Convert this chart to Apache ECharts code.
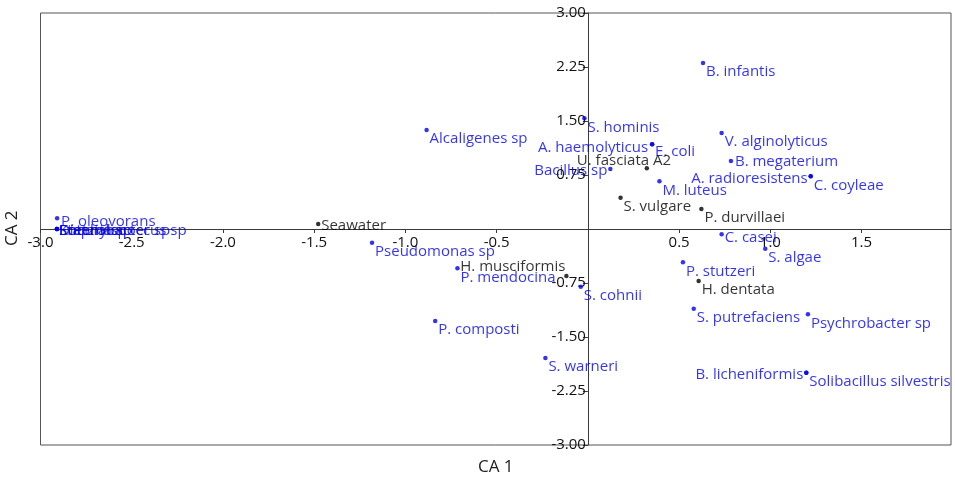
<!DOCTYPE html>
<html>
<head>
<meta charset="utf-8">
<title>CA biplot</title>
<script src="https://cdn.jsdelivr.net/npm/echarts@6/dist/echarts.min.js"></script>
<style>
  html, body { margin: 0; padding: 0; background: #fff; }
  #chart { width: 955px; height: 485px; }
</style>
</head>
<body>
<div id="chart"></div>
<script>
// Correspondence analysis scores: bacteria (blue) and algae / seawater (black)
const bacteriaNames = [
  'B. infantis', 'S. hominis', 'Alcaligenes sp', 'A. haemolyticus', 'E. coli',
  'Bacillus sp', 'M. luteus', 'V. alginolyticus', 'B. megaterium',
  'A. radioresistens', 'C. coyleae', 'Pseudomonas sp', 'P. mendocina',
  'S. cohnii', 'P. composti', 'S. warneri', 'C. casei', 'S. algae',
  'P. stutzeri', 'S. putrefaciens', 'Psychrobacter sp', 'B. licheniformis',
  'Solibacillus silvestris', 'P. oleovorans',
  'Staphylococcus sp', 'Enterobacter sp', 'Kocuria sp', 'Dietzia sp'
];
const bacteriaCA1 = [
  0.631, -0.019, -0.884, 0.352, 0.352,
  0.123, 0.392, 0.733, 0.784,
  1.221, 1.221, -1.183, -0.715,
  -0.039, -0.837, -0.233, 0.733, 0.972,
  0.521, 0.580, 1.206, 1.197,
  1.197, -2.909,
  -2.910, -2.910, -2.910, -2.910
];
const bacteriaCA2 = [
  2.306, 1.538, 1.375, 1.176, 1.176,
  0.833, 0.663, 1.333, 0.944,
  0.732, 0.732, -0.190, -0.546,
  -0.801, -1.278, -1.792, -0.074, -0.274,
  -0.463, -1.107, -1.185, -1.996,
  -1.996, 0.149,
  0.000, 0.000, 0.000, 0.000
];

const algaeNames = ['Seawater', 'U. fasciata A2', 'S. vulgare', 'P. durvillaei', 'H. musciformis', 'H. dentata'];
const algaeCA1 = [-1.478, 0.323, 0.179, 0.622, -0.118, 0.607];
const algaeCA2 = [0.069, 0.843, 0.435, 0.278, -0.653, -0.722];

const xTicks = { min: -3, max: 1.99, step: 0.5 };
const yTicks = { min: -3, max: 3, step: 0.75 };

// label placement relative to each point: [dx, dy, align]
const labelPlacement = {
  'A. haemolyticus': [-4, 3, 'right'],
  'Bacillus sp': [-3, 2, 'right'],
  'A. radioresistens': [-3, 2, 'right'],
  'B. licheniformis': [-3, 2, 'right'],
  'H. musciformis': [-1, -9, 'right'],
  'U. fasciata A2': [-70, -8, 'left'],
  'B. megaterium': [4, 1, 'left'],
  'C. casei': [3, 3, 'left'],
  'Seawater': [3, 2, 'left'],
  'P. oleovorans': [4, 3, 'left'],
  'E. coli': [3, 7, 'left'],
  'Staphylococcus sp': [2, 2, 'left'],
  'Enterobacter sp': [2, 2, 'left'],
  'Kocuria sp': [2, 2, 'left'],
  'Dietzia sp': [2, 2, 'left']
};

const BLUE = '#0000ee';
const BLACK = '#000000';
const FONT = '"Open Sans", "Noto Sans", sans-serif';

// plot frame in pixels
const GRID = { left: 40.5, right: 4, top: 13, bottom: 40 };
const W = 955, H = 485;
const plotW = W - GRID.left - GRID.right;
const plotH = H - GRID.top - GRID.bottom;
// shift the axes so they cross at the origin, labels included
const xAxisOffset = -plotH * (0 - yTicks.min) / (yTicks.max - yTicks.min);
const yAxisOffset = -plotW * (0 - xTicks.min) / (xTicks.max - xTicks.min);

function buildPoints(names, xs, ys, color) {
  return names.map(function (n, i) {
    const p = labelPlacement[n] || [3, 9, 'left'];
    return {
      name: n,
      value: [xs[i], ys[i]],
      label: {
        show: true,
        position: 'inside',
        align: p[2],
        verticalAlign: 'middle',
        offset: [p[0], p[1]],
        formatter: n,
        color: color,
        fontSize: 15,
        fontFamily: FONT
      }
    };
  });
}

function isStep(v, step) {
  const k = v / step;
  return Math.abs(k - Math.round(k)) < 1e-6;
}

const chart = echarts.init(document.getElementById('chart'), null, { renderer: 'canvas' });

chart.setOption({
  animation: false,
  backgroundColor: '#ffffff',
  grid: {
    left: GRID.left, right: GRID.right, top: GRID.top, bottom: GRID.bottom,
    show: true, borderColor: '#555555', borderWidth: 1, backgroundColor: 'transparent'
  },
  xAxis: {
    type: 'value', position: 'bottom', offset: xAxisOffset,
    min: xTicks.min, max: xTicks.max, interval: xTicks.step,
    axisLine: { onZero: false, lineStyle: { color: '#3a3a3a', width: 1 } },
    axisTick: { show: true, length: 4, lineStyle: { color: '#3a3a3a' } },
    splitLine: { show: false },
    axisLabel: {
      color: '#111', fontSize: 15, fontFamily: FONT, margin: 6,
      showMaxLabel: false,
      formatter: function (v) {
        if (Math.abs(v) < 1e-9 || !isStep(v, xTicks.step)) return '';
        return v.toFixed(1);
      }
    }
  },
  yAxis: {
    type: 'value', position: 'left', offset: yAxisOffset,
    min: yTicks.min, max: yTicks.max, interval: yTicks.step,
    axisLine: { onZero: false, lineStyle: { color: '#3a3a3a', width: 1 } },
    axisTick: { show: true, length: 5, lineStyle: { color: '#3a3a3a' } },
    splitLine: { show: false },
    axisLabel: {
      color: '#111', fontSize: 15, fontFamily: FONT, margin: 2,
      formatter: function (v) {
        if (Math.abs(v) < 1e-9) return '';
        return v.toFixed(2);
      }
    }
  },
  graphic: [
    {
      type: 'text', left: 478, top: 459,
      style: { text: 'CA 1', fontSize: 17, fontFamily: FONT, fill: '#222' }
    },
    {
      type: 'text', x: 4, y: 246, rotation: Math.PI / 2,
      style: { text: 'CA 2', fontSize: 17, fontFamily: FONT, fill: '#222' }
    }
  ],
  series: [
    {
      name: 'Bacteria', type: 'scatter', symbol: 'circle', symbolSize: 4.5,
      itemStyle: { color: BLUE },
      data: buildPoints(bacteriaNames, bacteriaCA1, bacteriaCA2, BLUE),
      z: 3
    },
    {
      name: 'Algae', type: 'scatter', symbol: 'circle', symbolSize: 4.5,
      itemStyle: { color: BLACK },
      data: buildPoints(algaeNames, algaeCA1, algaeCA2, BLACK),
      z: 4
    }
  ]
});
</script>
</body>
</html>
